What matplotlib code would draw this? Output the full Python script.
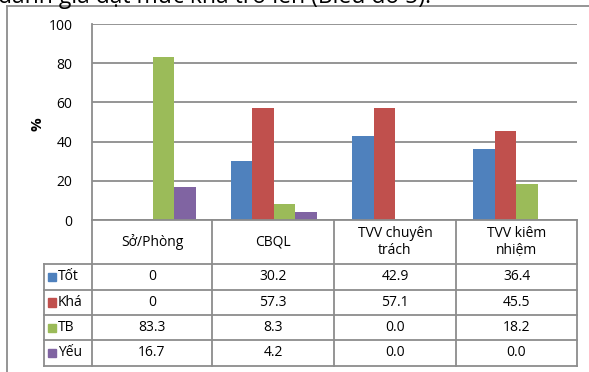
import matplotlib
matplotlib.use('Agg')
import matplotlib.pyplot as plt
from matplotlib.lines import Line2D
import numpy as np

plt.rcParams['font.family'] = ['Open Sans', 'DejaVu Sans']

# Data: categories and the four rating series (table strings, bars use same values)
categories = ['Sở/Phòng', 'CBQL', 'TVV chuyên\ntrách', 'TVV kiêm\nnhiệm']
series_names = ['Tốt', 'Khá', 'TB', 'Yếu']
tot = ['0', '30.2', '42.9', '36.4']
kha = ['0', '57.3', '57.1', '45.5']
tb = ['83.3', '8.3', '0.0', '18.2']
yeu = ['16.7', '4.2', '0.0', '0.0']
colors = ['#4F81BD', '#C0504D', '#9BBB59', '#8064A2']
y_ticks = [0, 20, 40, 60, 80, 100]

W, H = 589, 372
fig = plt.figure(figsize=(W / 100, H / 100), dpi=100)

def fx(px):
    return px / W

def fy(py):
    return 1 - py / H

# plot area
ax_l, ax_r, ax_t, ax_b = 92, 577, 24, 220
ax = fig.add_axes([fx(ax_l), fy(ax_b), fx(ax_r - ax_l), fy(ax_t) - fy(ax_b)])
ax.set_xlim(0, 4)
ax.set_ylim(0, 100)

rows = [tot, kha, tb, yeu]
bw = 0.178
x = np.arange(len(categories)) + 0.5
for i, (row, c) in enumerate(zip(rows, colors)):
    vals = [float(v) for v in row]
    ax.bar(x + (i - 1.5) * bw, vals, bw, color=c, zorder=3)

ax.set_yticks(y_ticks)
ax.yaxis.grid(True, color='#8c8c8c', linewidth=1.3, zorder=0)
ax.set_xticks([])
ax.tick_params(axis='y', length=0, labelsize=10, pad=14, colors='#000000')
for s in ['top', 'right']:
    ax.spines[s].set_visible(False)
ax.spines['left'].set_color('#8c8c8c')
ax.spines['left'].set_linewidth(1.3)
ax.spines['bottom'].set_visible(False)

# axis title
fig.text(fx(38), fy(124), '%', rotation=90, ha='center', va='center',
         fontsize=11, fontweight='bold')

# data table under the plot
def hline(x0, x1, y):
    fig.add_artist(Line2D([fx(x0), fx(x1)], [fy(y), fy(y)], color='#8c8c8c', lw=1.3))

def vline(xp, y0, y1):
    fig.add_artist(Line2D([fx(xp), fx(xp)], [fy(y0), fy(y1)], color='#8c8c8c', lw=1.3))

col_edges = [92, 212, 334, 456, 577]
row_edges = [220, 264, 290, 315, 340, 366]
key_left = 44

hline(ax_l, ax_r, row_edges[0])
for yy in row_edges[1:]:
    hline(key_left, ax_r, yy)
for xx in col_edges:
    vline(xx, row_edges[0], row_edges[-1])
vline(key_left, row_edges[1], row_edges[-1])

for j, cat in enumerate(categories):
    cx = (col_edges[j] + col_edges[j + 1]) / 2
    cy = (row_edges[0] + row_edges[1]) / 2
    fig.text(fx(cx), fy(cy), cat, ha='center', va='center', fontsize=10,
             linespacing=1.25)

for i, (name, row, c) in enumerate(zip(series_names, rows, colors)):
    cy = (row_edges[i + 1] + row_edges[i + 2]) / 2
    fig.patches.append(plt.Rectangle((fx(key_left + 4), fy(cy + 4)), fx(8), fy(cy - 4) - fy(cy + 4),
                                     transform=fig.transFigure, color=c, figure=fig))
    fig.text(fx(key_left + 14), fy(cy), name, ha='left', va='center', fontsize=10)
    for j, v in enumerate(row):
        cx = (col_edges[j] + col_edges[j + 1]) / 2
        fig.text(fx(cx), fy(cy), v, ha='center', va='center', fontsize=10)

# outer chart frame
fig.add_artist(Line2D([fx(7), fx(7)], [fy(6), 0], color='#8c8c8c', lw=1.3))
fig.add_artist(Line2D([fx(7), 1], [fy(6), fy(6)], color='#8c8c8c', lw=1.3))

# caption line above the chart, mostly cut by the top edge
fig.text(fx(-2), fy(3), 'đánh giá đạt mức khá trở lên (Biểu đồ 5).', ha='left',
         va='baseline', fontsize=16.5)

fig.savefig('out.png', dpi=100)
